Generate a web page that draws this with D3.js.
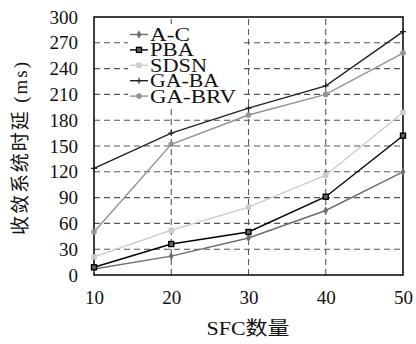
<!DOCTYPE html>
<html>
<head>
<meta charset="utf-8">
<script src="https://cdn.jsdelivr.net/npm/d3@7"></script>
<style>
  body { margin: 0; background: #fff; }
  svg { display: block; }
  text { font-family: "Liberation Serif", "DejaVu Serif", "Noto Sans CJK SC", serif; fill: #111; }
</style>
</head>
<body>
<svg width="416" height="344"></svg>
<script>
// chart data
const sfcCounts = [10, 20, 30, 40, 50];
const yTicks = [0, 30, 60, 90, 120, 150, 180, 210, 240, 270, 300];
const seriesNames = ["A-C", "PBA", "SDSN", "GA-BA", "GA-BRV"];
const acVals = [7, 22, 43, 75, 120];
const pbaVals = [9, 36, 50, 91, 162];
const sdsnVals = [21, 52, 79, 116, 189];
const gabaVals = [124, 165, 194, 220, 283];
const gabrvVals = [50, 152, 186, 210, 258];

const series = [
  { name: seriesNames[0], vals: acVals, color: "#6e6e6e", marker: "diamond", w: 40 },
  { name: seriesNames[1], vals: pbaVals, color: "#000", marker: "square", w: 44 },
  { name: seriesNames[2], vals: sdsnVals, color: "#cccccc", marker: "fsquare", w: 57 },
  { name: seriesNames[3], vals: gabaVals, color: "#222", marker: "plus", w: 69 },
  { name: seriesNames[4], vals: gabrvVals, color: "#939393", marker: "circle", w: 86 }
];

const svg = d3.select("svg");
const M = { left: 94, right: 13, top: 17, bottom: 69 };
const W = 416, H = 344;

const x = d3.scaleLinear().domain([10, 50]).range([M.left, W - M.right]);
const y = d3.scaleLinear().domain([0, 300]).range([H - M.bottom, M.top]);

const g = svg.append("g");

// grid
g.append("g").selectAll("line").data(yTicks.slice(1, -1)).enter().append("line")
  .attr("x1", x(10)).attr("x2", x(50))
  .attr("y1", d => y(d)).attr("y2", d => y(d))
  .attr("stroke", "#555").attr("stroke-width", 1.1).attr("stroke-dasharray", "6,4");
g.append("g").selectAll("line").data(sfcCounts.slice(1, -1)).enter().append("line")
  .attr("x1", d => x(d)).attr("x2", d => x(d))
  .attr("y1", y(0)).attr("y2", y(300))
  .attr("stroke", "#555").attr("stroke-width", 1.1).attr("stroke-dasharray", "6,4");

// axes
const yAxis = g.append("g").attr("transform", `translate(${x(10)},0)`)
  .call(d3.axisLeft(y).tickValues(yTicks).tickSize(0).tickPadding(16));
const xAxis = g.append("g").attr("transform", `translate(0,${y(0)})`)
  .call(d3.axisBottom(x).tickValues(sfcCounts).tickSize(0).tickPadding(16));
[yAxis, xAxis].forEach(a => {
  a.select(".domain").remove();
  a.selectAll("text").style("font-size", "19px").attr("fill", "#111");
});

// frame
g.append("rect")
  .attr("x", x(10)).attr("y", y(300))
  .attr("width", x(50) - x(10)).attr("height", y(0) - y(300))
  .attr("fill", "none").attr("stroke", "#111").attr("stroke-width", 1.6);

function drawMarker(sel, type, color, cx, cy) {
  if (type === "diamond") {
    sel.append("path").attr("d", d3.symbol(d3.symbolDiamond, 20)())
      .attr("transform", `translate(${cx},${cy})`).attr("fill", color);
  } else if (type === "square") {
    sel.append("rect").attr("x", cx - 2.5).attr("y", cy - 2.5).attr("width", 5).attr("height", 5)
      .attr("fill", "#666").attr("stroke", color).attr("stroke-width", 1.4);
  } else if (type === "fsquare") {
    sel.append("rect").attr("x", cx - 2.7).attr("y", cy - 2.7).attr("width", 5.4).attr("height", 5.4)
      .attr("fill", color);
  } else if (type === "plus") {
    sel.append("path").attr("d", `M${cx - 3},${cy}H${cx + 3}M${cx},${cy - 3}V${cy + 3}`)
      .attr("stroke", color).attr("stroke-width", 1.2);
  } else {
    sel.append("circle").attr("cx", cx).attr("cy", cy).attr("r", 2.8).attr("fill", color);
  }
}

const line = d3.line().x((d, i) => x(sfcCounts[i])).y(d => y(d));

series.forEach(s => {
  g.append("path").datum(s.vals).attr("d", line)
    .attr("fill", "none").attr("stroke", s.color).attr("stroke-width", 1.4);
  const mg = g.append("g");
  s.vals.forEach((v, i) => drawMarker(mg, s.marker, s.color, x(sfcCounts[i]), y(v)));
});

// legend (rows are packed as tightly as in the source figure)
const lg = g.append("g");
lg.append("rect").attr("x", 128).attr("y", 24).attr("width", 114).attr("height", 82).attr("fill", "#fff");
series.forEach((s, i) => {
  const ly = 34.5 + i * 15.4;
  lg.append("line").attr("x1", 130).attr("x2", 148).attr("y1", ly).attr("y2", ly)
    .attr("stroke", s.color).attr("stroke-width", 1.4);
  drawMarker(lg, s.marker, s.color, 139, ly);
  lg.append("text").attr("x", 150).attr("y", ly + 6.5)
    .style("font-size", "18.5px")
    .attr("textLength", s.w).attr("lengthAdjust", "spacingAndGlyphs")
    .text(s.name);
});

// axis titles
svg.append("text")
  .attr("transform", `translate(27,148.5) rotate(-90)`)
  .attr("text-anchor", "middle").style("font-size", "19px")
  .attr("textLength", 173).attr("lengthAdjust", "spacing")
  .text("收敛系统时延 (ms)");
svg.append("text")
  .attr("x", 248).attr("y", 335)
  .attr("text-anchor", "middle").style("font-size", "19px")
  .attr("textLength", 83).attr("lengthAdjust", "spacingAndGlyphs")
  .text("SFC数量");
</script>
</body>
</html>
